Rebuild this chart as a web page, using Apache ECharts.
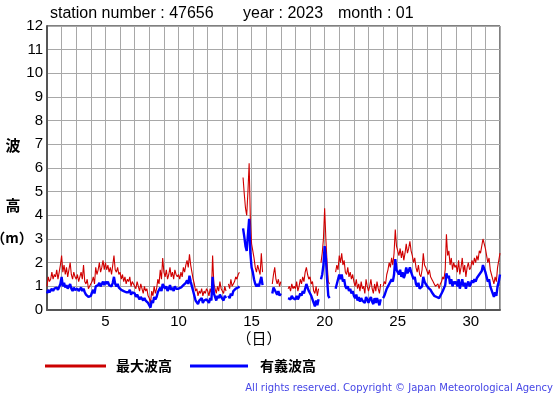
<!DOCTYPE html>
<html>
<head>
<meta charset="utf-8">
<script src="https://cdn.jsdelivr.net/npm/echarts@6/dist/echarts.min.js"></script>
<style>
html,body{margin:0;padding:0;background:#fff;}
#c{width:555px;height:395px;}
</style>
</head>
<body>
<div id="c"></div>
<script>
// time axis: day of month (1 .. 32), 12 samples per day (2-hourly)
const startDay = 1;
const samplesPerDay = 12;
const xTicks = [5, 10, 15, 20, 25, 30];
const yTicks = [0,1,2,3,4,5,6,7,8,9,10,11,12];

// 最大波高 (m), one row per day
const maxWave = [
  1.0,1.4,1.2,1.3,1.6,1.3,1.5,1.4,1.7,1.3,1.6,1.9,
  2.3,1.6,1.9,1.5,1.8,1.4,1.7,2.0,1.5,1.3,1.6,1.4,
  1.3,1.5,1.2,1.4,1.6,1.3,1.9,1.2,1.1,1.3,0.9,1.0,
  1.0,1.2,1.4,1.1,1.8,1.5,1.7,2.0,1.6,1.8,2.1,1.7,
  2.0,1.7,1.9,1.6,1.8,1.5,1.9,2.3,1.7,1.6,1.8,1.5,
  1.6,1.3,1.5,1.2,1.4,1.1,1.3,1.2,1.4,1.0,1.2,1.1,
  1.1,0.9,1.2,1.0,0.8,1.1,0.9,0.7,1.0,0.8,0.9,0.6,
  0.5,0.3,0.8,0.6,1.0,0.7,0.9,1.3,1.1,1.7,1.3,2.2,
  1.6,1.4,1.7,1.3,1.5,1.8,1.4,1.6,1.3,1.7,1.5,1.4,
  1.5,1.3,1.6,1.4,1.8,1.6,1.9,2.1,1.8,2.35,1.9,1.6,
  1.3,1.1,0.8,0.9,0.6,0.8,0.7,0.9,0.6,0.8,0.7,0.9,
  0.8,0.6,0.9,0.7,2.3,1.1,0.9,0.7,1.0,0.8,1.2,0.9,
  0.9,0.7,1.0,0.8,null,1.1,0.9,1.3,1.0,1.1,1.2,1.4,
  1.3,1.5,1.6,null,null,5.6,4.9,4.3,4.0,5.0,6.2,3.8,
  2.8,2.5,2.2,1.8,1.6,1.9,1.7,1.5,2.4,1.6,null,null,
  null,null,null,null,null,1.1,1.5,1.8,1.3,1.1,1.3,1.0,
  1.2,null,null,null,null,null,0.9,1.0,0.8,1.1,0.9,1.0,
  0.9,1.2,0.8,1.0,1.3,1.1,1.4,1.2,1.6,1.8,1.5,1.3,
  1.4,1.1,1.2,0.8,0.7,1.0,0.6,0.9,null,2.0,2.4,3.0,
  4.3,3.0,2.0,1.2,1.1,null,null,null,null,1.6,1.9,1.7,
  2.3,2.0,2.4,1.9,2.1,1.6,1.5,1.8,1.4,1.6,1.3,1.5,
  1.2,1.0,1.3,0.9,1.1,0.8,1.2,0.9,1.0,0.7,1.3,1.0,
  0.8,1.0,1.3,0.9,0.7,1.1,0.8,1.2,0.9,0.7,1.1,null,
  1.0,1.2,1.1,1.5,1.7,2.0,1.8,2.2,1.9,2.4,3.4,2.7,
  2.5,2.3,2.6,2.2,2.5,2.1,2.4,2.8,2.4,2.6,2.9,2.5,
  2.3,2.0,2.2,1.8,1.6,1.9,1.5,1.4,1.7,2.4,1.9,1.8,
  1.8,1.5,1.7,1.4,1.3,1.2,1.1,1.0,1.0,1.1,0.9,1.1,
  1.2,1.4,1.3,1.7,3.2,2.3,2.5,1.9,2.2,1.7,2.0,1.8,
  1.9,1.6,2.1,1.5,1.8,2.2,1.6,1.9,1.4,1.8,2.0,1.7,
  1.8,2.1,1.9,2.2,2.0,2.3,2.1,2.5,2.4,2.7,3.0,2.8,
  2.6,2.3,2.0,2.2,1.7,1.5,1.3,1.1,1.4,1.2,1.8,2.1,
  2.4
];

// 有義波高 (m), one row per day
const sigWave = [
  0.7,0.85,0.75,0.8,0.9,0.8,0.9,0.85,0.95,0.85,0.9,1.1,
  1.4,1.0,1.15,0.95,1.05,0.9,1.0,1.1,0.9,0.8,0.95,0.85,
  0.85,0.9,0.8,0.85,0.95,0.8,0.9,0.75,0.65,0.7,0.55,0.6,
  0.6,0.75,0.85,0.7,1.0,0.95,1.05,1.15,1.0,1.1,1.2,1.05,
  1.2,1.1,1.2,1.05,1.1,1.0,1.15,1.4,1.1,1.0,1.1,0.95,
  1.0,0.85,0.9,0.8,0.85,0.75,0.8,0.75,0.85,0.65,0.75,0.7,
  0.7,0.55,0.65,0.6,0.45,0.55,0.5,0.4,0.5,0.4,0.45,0.3,
  0.25,0.1,0.4,0.3,0.55,0.45,0.55,0.75,0.7,0.95,0.8,1.1,
  1.0,0.9,1.0,0.8,0.9,1.05,0.85,0.95,0.8,1.0,0.9,0.85,
  0.9,0.85,0.95,0.9,1.05,1.0,1.15,1.25,1.1,1.45,1.2,1.0,
  0.8,0.6,0.4,0.45,0.25,0.4,0.35,0.5,0.3,0.4,0.35,0.45,
  0.4,0.3,0.5,0.4,1.4,0.7,0.55,0.4,0.6,0.5,0.65,0.55,
  0.5,0.4,0.6,0.5,null,0.6,0.5,0.7,0.6,0.8,0.85,0.9,
  0.9,0.95,1.0,null,null,3.45,3.1,2.7,2.5,3.2,3.85,2.4,
  1.8,1.6,1.3,1.1,1.0,1.1,1.0,0.95,1.4,1.05,null,null,
  null,null,null,null,null,0.7,0.95,1.0,0.75,0.65,0.8,0.6,
  0.7,null,null,null,null,null,0.5,0.55,0.45,0.6,0.5,0.55,
  0.45,0.6,0.45,0.55,0.7,0.6,0.8,0.7,0.9,1.1,0.95,0.8,
  0.8,0.6,0.55,0.3,0.15,0.4,0.2,0.45,null,1.3,1.5,1.9,
  2.7,2.2,1.3,0.6,0.5,null,null,null,null,0.9,1.1,1.05,
  1.5,1.3,1.5,1.2,1.3,1.0,0.9,1.0,0.8,0.9,0.7,0.8,
  0.6,0.5,0.65,0.4,0.55,0.35,0.5,0.4,0.45,0.3,0.55,0.45,
  0.3,0.45,0.55,0.35,0.25,0.5,0.3,0.5,0.35,0.2,0.45,null,
  0.5,0.6,0.6,0.9,1.0,1.1,1.1,1.3,1.2,1.5,2.15,1.7,
  1.6,1.5,1.7,1.4,1.6,1.35,1.5,1.8,1.55,1.65,1.8,1.6,
  1.45,1.3,1.4,1.1,1.0,1.15,0.9,0.85,1.0,1.4,1.2,1.1,
  1.1,0.95,1.0,0.85,0.75,0.7,0.6,0.55,0.55,0.6,0.5,0.6,
  0.7,0.8,0.8,1.05,1.55,1.35,1.45,1.1,1.3,1.0,1.2,1.1,
  1.2,1.0,1.3,0.9,1.1,1.3,1.0,1.15,0.9,1.1,1.2,1.0,
  1.1,1.25,1.15,1.3,1.2,1.35,1.3,1.5,1.45,1.65,1.9,1.75,
  1.6,1.4,1.2,1.3,1.0,0.85,0.7,0.55,0.75,0.6,1.0,1.2,
  1.5
];

const toPairs = arr => arr.map((v, i) => [startDay + i / samplesPerDay, v]);

const chart = echarts.init(document.getElementById('c'), null, {renderer: 'canvas'});
const sans = '"Liberation Sans", Arial, Helvetica, sans-serif';
const cjk = '"Noto Sans CJK JP", "Noto Sans CJK SC", sans-serif';

chart.setOption({
  animation: false,
  backgroundColor: '#fff',
  grid: {left: 47, right: 55, top: 26, bottom: 85, show: true, borderColor: '#000', borderWidth: 1, backgroundColor: 'transparent'},
  xAxis: {
    type: 'value', min: 1, max: 32, interval: 1,
    axisLine: {show: true, onZero: false, lineStyle: {color: '#555', width: 2}},
    axisTick: {show: false},
    splitLine: {show: true, lineStyle: {color: '#a8a8a8', width: 1}},
    axisLabel: {
      color: '#000', fontSize: 15, fontFamily: sans, margin: 4,
      formatter: v => xTicks.indexOf(v) >= 0 ? String(v) : ''
    }
  },
  yAxis: {
    type: 'value', min: 0, max: 12, interval: 1,
    axisLine: {show: true, onZero: false, lineStyle: {color: '#555', width: 2}},
    axisTick: {show: false},
    splitLine: {show: true, lineStyle: {color: '#a8a8a8', width: 1}},
    axisLabel: {
      color: '#000', fontSize: 15, fontFamily: sans, margin: 4,
      formatter: v => yTicks.indexOf(v) >= 0 ? String(v) : ''
    }
  },
  series: [
    {name: '最大波高', type: 'line', data: toPairs(maxWave), showSymbol: false, connectNulls: false,
     lineStyle: {color: '#d00000', width: 1.1}, itemStyle: {color: '#d00000'}, z: 2},
    {name: '有義波高', type: 'line', data: toPairs(sigWave), showSymbol: false, connectNulls: false,
     lineStyle: {color: '#0000ff', width: 2.4}, itemStyle: {color: '#0000ff'}, z: 3}
  ],
  graphic: [
    {type: 'text', left: 50, top: 6, style: {text: 'station number : 47656', font: '16px ' + sans, fill: '#000'}},
    {type: 'text', left: 243, top: 6, style: {text: 'year : 2023', font: '16px ' + sans, fill: '#000'}},
    {type: 'text', left: 338, top: 6, style: {text: 'month : 01', font: '16px ' + sans, fill: '#000'}},
    {type: 'text', x: 13, y: 145, style: {text: '波', font: 'bold 15px ' + cjk, fill: '#000', align: 'center', verticalAlign: 'middle'}},
    {type: 'text', x: 13, y: 205, style: {text: '高', font: 'bold 15px ' + cjk, fill: '#000', align: 'center', verticalAlign: 'middle'}},
    {type: 'text', x: 12, y: 238, style: {text: '（m）', font: 'bold 14px ' + cjk, fill: '#000', align: 'center', verticalAlign: 'middle'}},
    {type: 'text', x: 259, y: 338, style: {text: '（日）', font: '15px ' + cjk, fill: '#000', align: 'center', verticalAlign: 'middle'}},
    {type: 'line', shape: {x1: 45, y1: 366, x2: 106, y2: 366}, style: {stroke: '#cc0000', lineWidth: 3}},
    {type: 'text', x: 116, y: 366, style: {text: '最大波高', font: 'bold 14px ' + cjk, fill: '#000', verticalAlign: 'middle'}},
    {type: 'line', shape: {x1: 190, y1: 366, x2: 248, y2: 366}, style: {stroke: '#0000ff', lineWidth: 3}},
    {type: 'text', x: 260, y: 366, style: {text: '有義波高', font: 'bold 14px ' + cjk, fill: '#000', verticalAlign: 'middle'}},
    {type: 'text', right: 2, y: 388, style: {text: 'All rights reserved. Copyright © Japan Meteorological Agency', font: '10px "DejaVu Sans", sans-serif', fill: '#4646e6', verticalAlign: 'middle'}}
  ]
});
</script>
</body>
</html>
